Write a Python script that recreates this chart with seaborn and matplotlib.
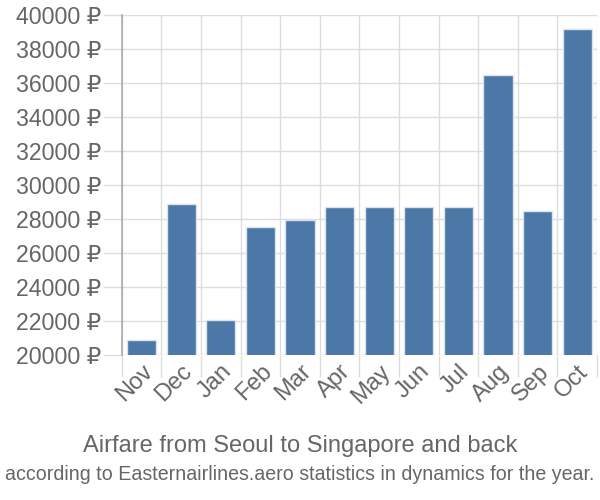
import matplotlib
matplotlib.use("Agg")
import matplotlib.pyplot as plt
import seaborn as sns
import numpy as np
import pandas as pd
from matplotlib.ticker import FixedLocator

months = ["Nov", "Dec", "Jan", "Feb", "Mar", "Apr", "May", "Jun", "Jul", "Aug", "Sep", "Oct"]
prices = [20900, 28900, 22050, 27550, 27950, 28700, 28700, 28700, 28700, 36500, 28450, 39200]
y_ticks = list(range(20000, 40001, 2000))

sns.set_theme(style="white")
plt.rcParams["font.family"] = ["Liberation Sans", "DejaVu Sans"]

df = pd.DataFrame({"month": months, "price": prices})

fig = plt.figure(figsize=(6, 5), dpi=100)
ax = fig.add_axes([0.203, 0.29, 0.792, 0.68])

sns.barplot(data=df, x="month", y="price", color="#4c78a8", saturation=1,
            width=0.74, edgecolor="#dbe4ee", linewidth=1, ax=ax, zorder=3)

ax.set_ylim(20000, 40000)
ax.set_xlim(-0.5, len(months) - 0.5)
ax.set_yticks(y_ticks)
ax.set_yticklabels([f"{v} ₽" for v in y_ticks])
ax.xaxis.set_minor_locator(FixedLocator(np.arange(-0.5, len(months), 1.0)))

ax.grid(axis="y", color="#dddddd", linewidth=1, zorder=0)
ax.grid(axis="x", which="minor", color="#dddddd", linewidth=1, zorder=0)
ax.set_axisbelow(True)

for s in ["top", "right", "bottom"]:
    ax.spines[s].set_visible(False)
ax.spines["left"].set_color("#aaaaaa")
ax.spines["left"].set_linewidth(1.2)

ax.tick_params(axis="y", length=14, width=1, color="#dddddd", labelsize=16.7,
               labelcolor="#666666", pad=1, left=True)
ax.tick_params(axis="x", which="major", length=0, labelsize=17,
               labelcolor="#666666", pad=4)
ax.tick_params(axis="x", which="minor", length=16, width=1, color="#dddddd", bottom=True)
plt.setp(ax.get_xticklabels(), rotation=45, ha="right", rotation_mode="anchor")

ax.set_xlabel("")
ax.set_ylabel("")

fig.text(0.5, 0.108, "Airfare from Seoul to Singapore and back", ha="center",
         va="center", fontsize=17, color="#666666")
fig.text(0.5, 0.05, "according to Easternairlines.aero statistics in dynamics for the year.",
         ha="center", va="center", fontsize=14.1, color="#666666")

fig.savefig("out.png", dpi=100)
